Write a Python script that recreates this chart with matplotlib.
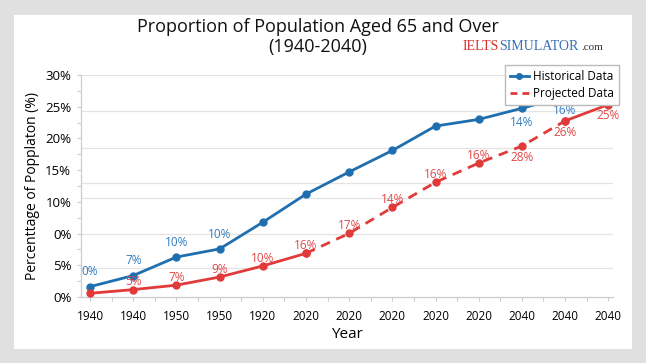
import matplotlib
matplotlib.use("Agg")
import matplotlib.pyplot as plt
from matplotlib.patches import Rectangle
from matplotlib.lines import Line2D
import numpy as np

plt.rcParams['font.family'] = ['Open Sans', 'DejaVu Sans']

x_labels = ['1940', '1940', '1950', '1950', '1920', '2020', '2020', '2020',
            '2020', '2020', '2040', '2040', '2040']
historical = [1.4, 2.9, 5.4, 6.5, 10.1, 13.9, 16.9, 19.8, 23.1, 24.0, 25.5, 27.1]
projected = [0.5, 1.0, 1.6, 2.7, 4.2, 5.9, 8.6, 12.1, 15.5, 18.1, 20.4, 23.8, 26.0]
hist_labels = {0: '0%', 1: '7%', 2: '10%', 3: '10%', 10: '14%', 11: '16%'}
proj_labels = {1: '5%', 2: '7%', 3: '9%', 4: '10%', 5: '16%', 6: '17%', 7: '14%',
               8: '16%', 9: '16%', 10: '28%', 11: '26%', 12: '25%'}
y_tick_labels = ['0%', '5%', '0%', '10%', '15%', '20%', '25%', '30%']
grid_values = [3.9, 8.5, 13.4, 15.4, 20.1, 25.1, 30.0]

BLUE = '#1f6fb0'
RED = '#e03a3a'
BLUE_T = '#2f7cbf'
RED_T = '#e04848'

fig = plt.figure(figsize=(6.46, 3.63), dpi=100)
fig.patch.set_facecolor('#e0e0e0')
fig.add_artist(Rectangle((14 / 646, 1 - 349 / 363), (632 - 14) / 646, (349 - 15) / 363,
                         transform=fig.transFigure, facecolor='white', edgecolor='none', zorder=0))

ax = fig.add_axes([81 / 646, 1 - 297 / 363, (613 - 81) / 646, (297 - 75) / 363])
ax.set_facecolor('white')

xs = np.arange(len(x_labels))
hx = xs[:len(historical)]

for g in grid_values:
    ax.axhline(g, color='#e4e4e4', lw=0.9, zorder=0)

ax.plot(hx, historical, color=BLUE, lw=2, marker='o', ms=5, zorder=3)
# projected: solid to index 5, dashed 5..11, solid 11..12
ax.plot(xs[:6], projected[:6], color=RED, lw=2, marker='o', ms=5, zorder=3)
ax.plot(xs[5:12], projected[5:12], color=RED, lw=2, ls=(0, (3.5, 2.5)), marker='o', ms=5, zorder=3)
ax.plot(xs[11:], projected[11:], color=RED, lw=2, marker='o', ms=5, zorder=3)

for i, t in hist_labels.items():
    if i >= 10:
        ax.annotate(t, (xs[i], historical[i]), xytext=(0, -5.5), textcoords='offset points',
                    ha='center', va='top', fontsize=8.5, color=BLUE_T, zorder=4)
    else:
        ax.annotate(t, (xs[i], historical[i]), xytext=(0, 6), textcoords='offset points',
                    ha='center', va='bottom', fontsize=8.5, color=BLUE_T, zorder=4)
for i, t in proj_labels.items():
    if i >= 10:
        ax.annotate(t, (xs[i], projected[i]), xytext=(0, -3.5), textcoords='offset points',
                    ha='center', va='top', fontsize=8.5, color=RED_T, zorder=4)
    else:
        ax.annotate(t, (xs[i], projected[i]), xytext=(0, 1), textcoords='offset points',
                    ha='center', va='bottom', fontsize=8.5, color=RED_T, zorder=4)

ax.set_xlim(-0.21, 12.11)
ax.set_ylim(0, 30)
ax.set_xticks(xs)
ax.set_xticklabels(x_labels, fontsize=8.5)
ax.set_xticks(xs[:-1] + 0.5, minor=True)
yt = np.linspace(0, 30, 8)
ax.set_yticks(yt)
ax.set_yticklabels(y_tick_labels, fontsize=9.5)
ax.set_yticks((yt[:-1] + yt[1:]) / 2, minor=True)
ax.tick_params(axis='both', which='both', color='#cccccc', length=3, width=0.8, pad=4)
ax.tick_params(axis='x', pad=6)
for s in ['top', 'right']:
    ax.spines[s].set_visible(False)
for s in ['left', 'bottom']:
    ax.spines[s].set_color('#cccccc')
    ax.spines[s].set_linewidth(0.9)

ax.set_xlabel('Year', fontsize=11, labelpad=3)
ax.set_ylabel('Percenttage of Popplaton (%)', fontsize=10, labelpad=4)

handles = [Line2D([], [], color=BLUE, lw=2, marker='o', ms=4),
           Line2D([], [], color=RED, lw=2, ls=(0, (2.5, 1.8)))]
leg = ax.legend(handles, ['Historical Data', 'Projected Data'], loc='upper right',
                bbox_to_anchor=(619 / 646, 1 - 65 / 363), bbox_transform=fig.transFigure,
                borderaxespad=0, fontsize=8.5, fancybox=False, framealpha=1,
                edgecolor='#bbbbbb', handlelength=1.6, borderpad=0.4,
                labelspacing=0.4, handletextpad=0.4)
leg.set_zorder(5)

fig.text(318 / 646, 1 - 27 / 363, 'Proportion of Population Aged 65 and Over',
         ha='center', va='center', fontsize=13, color='#111111')
fig.text(318 / 646, 1 - 47 / 363, '(1940-2040)', ha='center', va='center',
         fontsize=13, color='#111111')

t1 = fig.text(463 / 646, 1 - 47 / 363, 'IELTS', ha='left', va='center',
              fontsize=10, color='#d9302c', family='Liberation Serif')
fig.canvas.draw()
r = fig.canvas.get_renderer()
bb = t1.get_window_extent(r)
t2 = fig.text(bb.x1 / fig.bbox.width, 1 - 47 / 363, 'SIMULATOR', ha='left', va='center',
              fontsize=10, color='#3a6fb5', family='Liberation Serif')
bb2 = t2.get_window_extent(r)
fig.text(bb2.x1 / fig.bbox.width + 0.004, 1 - 47.5 / 363, '.com', ha='left', va='center',
         fontsize=8, color='#333333', family='Liberation Serif')

fig.savefig('out.png', dpi=100, facecolor=fig.get_facecolor())
